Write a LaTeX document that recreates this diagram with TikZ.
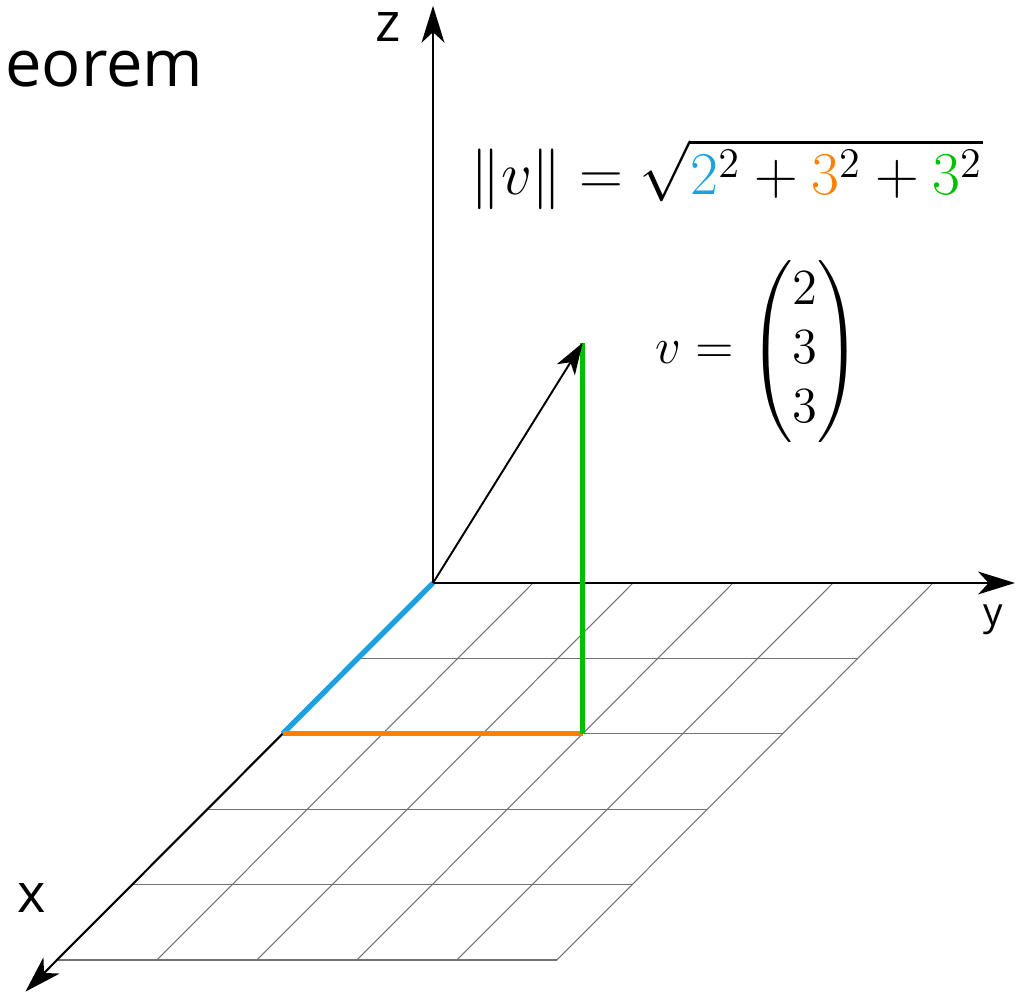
\documentclass[tikz,border=0pt]{standalone}
\usepackage{amsmath}
\usepackage{fontspec}
\newfontfamily\labelfont{Open Sans}
\usepackage{tikz}
\usetikzlibrary{arrows.meta}
\definecolor{pythblue}{RGB}{27,161,226}
\definecolor{pythorange}{RGB}{255,128,0}
\definecolor{pythgreen}{RGB}{0,192,0}
\tikzset{
  pythspace/.style={x={(-0.752cm,-0.754cm)}, y={(1cm,0cm)}, z={(0cm,1.303cm)}},
  pythgrid/.style={draw=black!55, line width=0.3pt},
  pythaxis/.style={-{Stealth[length=10.5pt, width=6.5pt, inset=3pt]}, line width=0.6pt},
  pytharrow/.style={-{Stealth[length=9pt, width=6pt, inset=2.5pt]}, line width=0.55pt},
  pythpart/.style={line width=1.5pt},
  pythlabel/.style={font=\labelfont\fontsize{15.4}{18}\selectfont, inner sep=0pt},
  pythtitle/.style={font=\labelfont\fontsize{18.5}{22}\selectfont, inner sep=0pt},
  pythmath/.style={font=\fontsize{16.5}{20}\selectfont, inner sep=0pt},
  pythvec/.style={font=\fontsize{14.5}{16.8}\selectfont, inner sep=0pt}
}

\begin{document}
\begin{tikzpicture}
\useasboundingbox (-4.33,-4.10) rectangle (5.88,5.83);
\begin{scope}[pythspace]
% floor grid
\foreach \k in {1,...,5}
  \draw[pythgrid] (\k,0,0) -- (\k,5,0);
\foreach \j in {1,...,5}
  \draw[pythgrid] (0,\j,0) -- (5,\j,0);
% axes and vector
\coordinate (O) at (0,0,0);
\coordinate (xend) at (5.42,0,0);
\coordinate (yend) at (0,5.82,0);
\coordinate (zend) at (0,0,4.43);
\coordinate (vx) at (2,0,0);
\coordinate (vxy) at (2,3,0);
\coordinate (v) at (2,3,3);
\draw[pythaxis] (O) -- (xend);
\draw[pythaxis] (O) -- (yend);
\draw[pythaxis] (O) -- (zend);
\draw[pythpart, pythblue] (O) -- (vx);
\draw[pythpart, pythorange] (vx) -- (vxy);
\draw[pythpart, pythgreen] (vxy) -- (v);
\draw[pytharrow] (O) -- (v);
\end{scope}
% labels
\node[pythlabel, anchor=base] (xlabel) at (-4.01,-3.30) {x};
\node[pythlabel, anchor=base, font=\labelfont\fontsize{11}{13}\selectfont] (ylabel) at (5.60,-0.43) {y};
\node[pythlabel, anchor=base] (zlabel) at (-0.445,5.41) {z};
\node[pythtitle, anchor=base east] (title) at (-2.29,4.96) {heorem};
\node[pythmath, anchor=base west] (norm) at (0.37,3.88)
  {$\|v\| = \sqrt{\textcolor{pythblue}{2}^2 + \textcolor{pythorange}{3}^2 + \textcolor{pythgreen}{3}^2}$};
\node[pythvec, anchor=base west] (vec) at (2.22,2.19)
  {$v = \begin{pmatrix} 2 \\ 3 \\ 3 \end{pmatrix}$};
\end{tikzpicture}
\end{document}
